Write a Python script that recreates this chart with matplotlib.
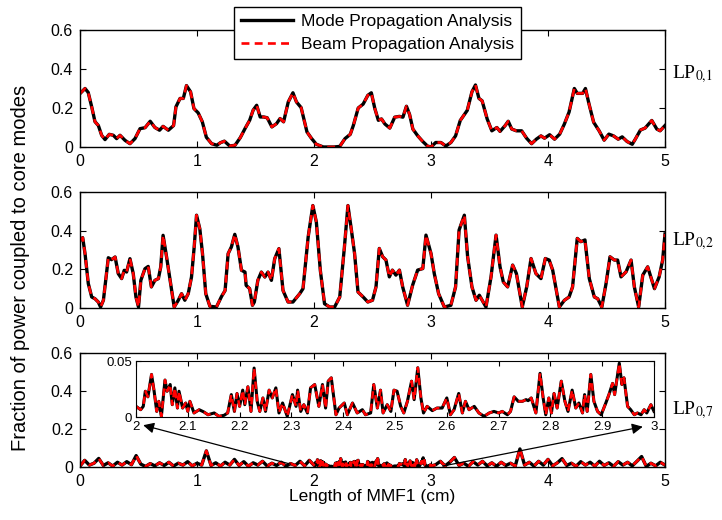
import numpy as np
import matplotlib
matplotlib.use("Agg")
from matplotlib import pyplot as plt

plt.rcParams["font.family"] = ["Liberation Sans", "DejaVu Sans"]
plt.rcParams["mathtext.fontset"] = "stix"

# LP01 trace, (length in cm, fraction)
lp01 = [
    (0, 0.274), (0.043, 0.30), (0.07, 0.28), (0.1, 0.206), (0.128, 0.13), (0.157, 0.11),
    (0.185, 0.06), (0.214, 0.038), (0.25, 0.065), (0.285, 0.06), (0.313, 0.043), (0.342, 0.06),
    (0.385, 0.034), (0.427, 0.017), (0.47, 0.043), (0.513, 0.094), (0.556, 0.099), (0.6, 0.132),
    (0.64, 0.10), (0.68, 0.086), (0.71, 0.106), (0.755, 0.086), (0.8, 0.11), (0.82, 0.206),
    (0.855, 0.249), (0.883, 0.249), (0.91, 0.315), (0.945, 0.283), (0.974, 0.197), (1.01, 0.175),
    (1.045, 0.13), (1.08, 0.05), (1.125, 0.017), (1.17, 0.009), (1.2, 0.022), (1.234, 0.03),
    (1.28, 0.005), (1.325, 0.009), (1.37, 0.048), (1.41, 0.094), (1.45, 0.137), (1.48, 0.189),
    (1.51, 0.214), (1.54, 0.154), (1.57, 0.154), (1.6, 0.15), (1.64, 0.103), (1.68, 0.12),
    (1.71, 0.146), (1.74, 0.129), (1.78, 0.231), (1.82, 0.278), (1.85, 0.231), (1.89, 0.202),
    (1.94, 0.077), (1.98, 0.043), (2.02, 0.014), (2.08, 0.0), (2.17, 0.0), (2.22, 0.003),
    (2.265, 0.043), (2.31, 0.065), (2.336, 0.11), (2.378, 0.2), (2.42, 0.22), (2.46, 0.265),
    (2.49, 0.278), (2.52, 0.197), (2.55, 0.137), (2.577, 0.144), (2.606, 0.118), (2.648, 0.097),
    (2.69, 0.153), (2.73, 0.157), (2.76, 0.153), (2.79, 0.209), (2.817, 0.167), (2.845, 0.092),
    (2.887, 0.057), (2.93, 0.028), (2.97, 0.005), (3.0, 0.0), (3.04, 0.023), (3.085, 0.023),
    (3.127, 0.005), (3.17, 0.023), (3.21, 0.057), (3.25, 0.136), (3.31, 0.188), (3.35, 0.283),
    (3.38, 0.318), (3.41, 0.249), (3.437, 0.237), (3.48, 0.144), (3.52, 0.083), (3.563, 0.1),
    (3.59, 0.08), (3.634, 0.11), (3.66, 0.132), (3.69, 0.092), (3.73, 0.083), (3.775, 0.083),
    (3.817, 0.045), (3.86, 0.017), (3.9, 0.04), (3.94, 0.057), (3.97, 0.045), (4.014, 0.063),
    (4.056, 0.04), (4.1, 0.066), (4.14, 0.118), (4.18, 0.179), (4.225, 0.30), (4.25, 0.275),
    (4.296, 0.275), (4.32, 0.30), (4.35, 0.222), (4.39, 0.127), (4.437, 0.083), (4.48, 0.035),
    (4.52, 0.066), (4.56, 0.057), (4.6, 0.04), (4.634, 0.052), (4.676, 0.028), (4.72, 0.014),
    (4.746, 0.04), (4.79, 0.087), (4.83, 0.097), (4.887, 0.136), (4.93, 0.092), (4.958, 0.083),
    (5.0, 0.11),
]

# LP02 trace
lp02 = [
    (0, 0.35), (0.023, 0.364), (0.043, 0.281), (0.071, 0.126), (0.1, 0.057), (0.128, 0.048),
    (0.156, 0.031), (0.176, 0.005), (0.2, 0.04), (0.22, 0.143), (0.242, 0.26), (0.27, 0.25),
    (0.3, 0.264), (0.327, 0.178), (0.356, 0.152), (0.378, 0.195), (0.398, 0.186), (0.427, 0.255),
    (0.455, 0.178), (0.478, 0.057), (0.5, 0.005), (0.52, 0.143), (0.555, 0.203), (0.583, 0.215),
    (0.61, 0.109), (0.64, 0.143), (0.67, 0.152), (0.69, 0.212), (0.71, 0.376), (0.74, 0.264),
    (0.77, 0.143), (0.805, 0.005), (0.84, 0.04), (0.868, 0.074), (0.896, 0.04), (0.925, 0.074),
    (0.953, 0.16), (0.976, 0.316), (0.996, 0.48), (1.024, 0.41), (1.047, 0.281), (1.075, 0.074),
    (1.11, 0.009), (1.166, 0.005), (1.21, 0.06), (1.24, 0.09), (1.266, 0.281), (1.294, 0.316),
    (1.323, 0.381), (1.35, 0.316), (1.38, 0.195), (1.41, 0.186), (1.42, 0.117), (1.45, 0.1),
    (1.474, 0.014), (1.49, 0.031), (1.52, 0.143), (1.55, 0.186), (1.58, 0.16), (1.607, 0.186),
    (1.636, 0.143), (1.664, 0.255), (1.7, 0.307), (1.735, 0.091), (1.778, 0.031), (1.82, 0.031),
    (1.878, 0.074), (1.906, 0.1), (1.95, 0.367), (1.99, 0.53), (2.02, 0.445), (2.054, 0.195),
    (2.09, 0.022), (2.134, 0.005), (2.176, 0.005), (2.22, 0.057), (2.26, 0.316), (2.29, 0.53),
    (2.32, 0.402), (2.347, 0.281), (2.376, 0.083), (2.42, 0.057), (2.46, 0.031), (2.5, 0.04),
    (2.53, 0.109), (2.558, 0.308), (2.587, 0.265), (2.615, 0.248), (2.644, 0.161), (2.67, 0.196),
    (2.7, 0.17), (2.73, 0.196), (2.758, 0.109), (2.8, 0.014), (2.843, 0.118), (2.886, 0.196),
    (2.93, 0.204), (2.957, 0.377), (3.0, 0.282), (3.028, 0.178), (3.065, 0.074), (3.114, 0.005),
    (3.17, 0.014), (3.21, 0.109), (3.24, 0.403), (3.285, 0.48), (3.313, 0.265), (3.35, 0.109),
    (3.385, 0.04), (3.413, 0.066), (3.47, 0.005), (3.513, 0.161), (3.556, 0.377), (3.59, 0.213),
    (3.618, 0.135), (3.655, 0.109), (3.698, 0.222), (3.73, 0.178), (3.78, 0.005), (3.818, 0.109),
    (3.855, 0.256), (3.897, 0.178), (3.94, 0.152), (3.977, 0.256), (4.01, 0.248), (4.04, 0.196),
    (4.097, 0.005), (4.14, 0.04), (4.18, 0.057), (4.21, 0.109), (4.25, 0.36), (4.28, 0.343),
    (4.316, 0.352), (4.353, 0.152), (4.396, 0.057), (4.425, 0.048), (4.46, 0.005), (4.496, 0.126),
    (4.53, 0.265), (4.567, 0.248), (4.595, 0.248), (4.624, 0.161), (4.667, 0.187), (4.71, 0.248),
    (4.738, 0.109), (4.775, 0.005), (4.81, 0.17), (4.852, 0.213), (4.91, 0.1), (4.95, 0.161),
    (4.98, 0.248), (5.0, 0.383),
]

# LP07 zoomed segment between 2 and 3 cm (inset)
lp07_zoom = [
    (2.0, 0.0095), (2.009, 0.0065), (2.014, 0.0095), (2.018, 0.023), (2.023, 0.018), (2.03, 0.038),
    (2.035, 0.023), (2.04, 0.005), (2.044, 0.014), (2.049, 0.0006), (2.056, 0.033), (2.06, 0.023),
    (2.066, 0.029), (2.07, 0.011), (2.075, 0.026), (2.08, 0.008), (2.083, 0.023), (2.09, 0.008),
    (2.096, 0.0125), (2.1, 0.005), (2.104, 0.014), (2.112, 0.0036), (2.122, 0.0065), (2.131, 0.0045),
    (2.139, 0.002), (2.151, 0.0036), (2.16, 0.0006), (2.17, 0.0015), (2.177, 0.0036), (2.184, 0.02),
    (2.19, 0.005), (2.195, 0.021), (2.2, 0.0095), (2.206, 0.024), (2.21, 0.011), (2.216, 0.027),
    (2.222, 0.005), (2.228, 0.0437), (2.234, 0.014), (2.239, 0.005), (2.245, 0.017), (2.25, 0.005),
    (2.257, 0.024), (2.263, 0.017), (2.27, 0.026), (2.276, 0.0036), (2.283, 0.0125), (2.292, 0.0006),
    (2.302, 0.02), (2.309, 0.0095), (2.312, 0.024), (2.318, 0.005), (2.324, 0.011), (2.331, 0.0036),
    (2.337, 0.026), (2.345, 0.029), (2.353, 0.0095), (2.36, 0.029), (2.366, 0.008), (2.371, 0.032),
    (2.377, 0.035), (2.386, 0.002), (2.392, 0.008), (2.402, 0.0125), (2.408, 0.002), (2.418, 0.0125),
    (2.427, 0.0036), (2.437, 0.0065), (2.443, 0.002), (2.453, 0.0036), (2.459, 0.029), (2.466, 0.008),
    (2.472, 0.024), (2.477, 0.0036), (2.485, 0.011), (2.492, 0.005), (2.498, 0.024), (2.504, 0.023),
    (2.511, 0.0095), (2.517, 0.0036), (2.524, 0.014), (2.532, 0.032), (2.537, 0.0155), (2.544, 0.044),
    (2.55, 0.017), (2.555, 0.0036), (2.562, 0.0095), (2.572, 0.0057), (2.581, 0.008), (2.591, 0.008),
    (2.6, 0.017), (2.607, 0.002), (2.614, 0.0065), (2.623, 0.021), (2.63, 0.0036), (2.636, 0.014),
    (2.643, 0.0065), (2.653, 0.0095), (2.662, 0.0036), (2.672, 0.0006), (2.682, 0.0036), (2.691, 0.005),
    (2.7, 0.0036), (2.707, 0.005), (2.717, 0.002), (2.723, 0.005), (2.73, 0.018), (2.738, 0.014),
    (2.746, 0.014), (2.753, 0.0155), (2.757, 0.0146), (2.763, 0.017), (2.772, 0.0036), (2.78, 0.039),
    (2.786, 0.017), (2.791, 0.002), (2.797, 0.017), (2.802, 0.0036), (2.807, 0.021), (2.813, 0.008),
    (2.821, 0.032), (2.828, 0.014), (2.834, 0.005), (2.842, 0.024), (2.849, 0.008), (2.855, 0.0125),
    (2.862, 0.0036), (2.866, 0.02), (2.871, 0.005), (2.878, 0.038), (2.884, 0.014), (2.891, 0.005),
    (2.898, 0.002), (2.907, 0.0125), (2.913, 0.02), (2.92, 0.03), (2.924, 0.02), (2.933, 0.048),
    (2.938, 0.029), (2.942, 0.035), (2.949, 0.0095), (2.955, 0.0065), (2.962, 0.002), (2.968, 0.0036),
    (2.975, 0.002), (2.981, 0.0065), (2.986, 0.0036), (2.994, 0.011), (3.0, 0.005),
]

# LP07 coarse readings, 0.04 cm apart, before 2 cm and after 3 cm
lp07_before = [
    0.005, 0.035, 0.01, 0.02, 0.045, 0.008, 0.022, 0.005, 0.025, 0.01,
    0.028, 0.012, 0.06, 0.015, 0.003, 0.018, 0.006, 0.022, 0.008, 0.025,
    0.005, 0.02, 0.01, 0.028, 0.006, 0.02, 0.01, 0.085, 0.008, 0.022,
    0.005, 0.025, 0.01, 0.04, 0.008, 0.028, 0.004, 0.022, 0.01, 0.03,
    0.005, 0.02, 0.008, 0.025, 0.004, 0.018, 0.008, 0.03, 0.006, 0.035,
]
lp07_after = [
    0.012, 0.03, 0.006, 0.025, 0.05, 0.008, 0.02, 0.004, 0.028, 0.01,
    0.03, 0.006, 0.022, 0.004, 0.025, 0.008, 0.02, 0.005, 0.095, 0.01,
    0.025, 0.005, 0.03, 0.01, 0.04, 0.006, 0.022, 0.044, 0.008, 0.02,
    0.004, 0.028, 0.01, 0.025, 0.005, 0.03, 0.008, 0.022, 0.004, 0.028,
    0.01, 0.025, 0.006, 0.03, 0.055, 0.003, 0.02, 0.006, 0.025, 0.01,
]

yticks = [0, 0.2, 0.4, 0.6]
ytick_labels = ["0", "0.2", "0.4", "0.6"]
inset_xticks = [2.0, 2.1, 2.2, 2.3, 2.4, 2.5, 2.6, 2.7, 2.8, 2.9, 3.0]
inset_xtick_labels = ["2", "2.1", "2.2", "2.3", "2.4", "2.5", "2.6", "2.7", "2.8", "2.9", "3"]


def unzip(points):
    arr = np.array(points)
    return arr[:, 0], arr[:, 1]


def draw_pair(ax, x, y):
    ax.plot(x, y, color="black", lw=2.4, label="Mode Propagation Analysis")
    ax.plot(x, y, color="red", lw=1.9, linestyle=(0, (3, 2)), label="Beam Propagation Analysis")


def style_axes(ax, size=11.5):
    ax.tick_params(direction="in", top=True, right=True, length=4, labelsize=size, pad=5)
    for s in ax.spines.values():
        s.set_linewidth(1.0)


fig = plt.figure(figsize=(7.22, 5.2), dpi=100)
left, width = 80 / 722, 585 / 722
ax1 = fig.add_axes([left, 1 - 147 / 520, width, 117 / 520])
ax2 = fig.add_axes([left, 1 - 308 / 520, width, 116 / 520])
ax3 = fig.add_axes([left, 1 - 467 / 520, width, 114 / 520])

x01, y01 = unzip(lp01)
x02, y02 = unzip(lp02)
xz, yz = unzip(lp07_zoom)
xb = np.round(np.arange(len(lp07_before)) * 0.04, 2)
xa = np.round(3.04 + np.arange(len(lp07_after)) * 0.04, 2)
x07 = np.concatenate([xb, xz, xa])
y07 = np.concatenate([lp07_before, yz, lp07_after])

draw_pair(ax1, x01, y01)
draw_pair(ax2, x02, y02)
draw_pair(ax3, x07, y07)

for ax, lab, ly in [(ax1, "LP$_{0{,}1}$", 0.62), (ax2, "LP$_{0{,}2}$", 0.58), (ax3, "LP$_{0{,}7}$", 0.5)]:
    ax.set_xlim(0, 5)
    ax.set_ylim(0, 0.6)
    ax.set_xticks(range(6))
    ax.set_yticks(yticks)
    ax.set_yticklabels(ytick_labels)
    style_axes(ax)
    ax.text(1.012, ly, lab, transform=ax.transAxes, fontsize=14,
            family="Liberation Serif", va="center", ha="left")

leg = ax1.legend(loc="upper center", bbox_to_anchor=(0.5085, 1.275), fontsize=12.5,
                 fancybox=False, edgecolor="black", framealpha=1, handlelength=3.0,
                 borderpad=0.4, labelspacing=0.5, handletextpad=0.5)
leg.get_frame().set_linewidth(1.0)

# zoom arrows
arrow = dict(arrowstyle="-|>", color="black", lw=0.9, mutation_scale=16, shrinkA=0, shrinkB=0)
ax3.annotate("", xy=(0.54, 0.22), xytext=(1.8, 0.015), arrowprops=arrow)
ax3.annotate("", xy=(4.81, 0.212), xytext=(3.1, 0.005), arrowprops=arrow)

# inset
axi = fig.add_axes([136 / 722, 1 - 417 / 520, 518 / 722, 56 / 520])
axi.plot(xz, yz, color="black", lw=2.2)
axi.plot(xz, yz, color="red", lw=1.8, linestyle=(0, (3, 2)))
axi.set_xlim(2, 3)
axi.set_ylim(0, 0.05)
axi.set_xticks(inset_xticks)
axi.set_xticklabels(inset_xtick_labels)
axi.set_yticks([0, 0.05])
axi.set_yticklabels(["0", "0.05"])
axi.tick_params(direction="in", top=True, right=True, length=3.5, labelsize=9.5, pad=3)

fig.text(0.028, 0.485, "Fraction of power coupled to core modes", rotation=90,
         ha="center", va="center", fontsize=14.5)
fig.text(372 / 722, 1 - 497 / 520, "Length of MMF1 (cm)", ha="center", va="center", fontsize=12.5)

fig.savefig("out.png", dpi=100)
